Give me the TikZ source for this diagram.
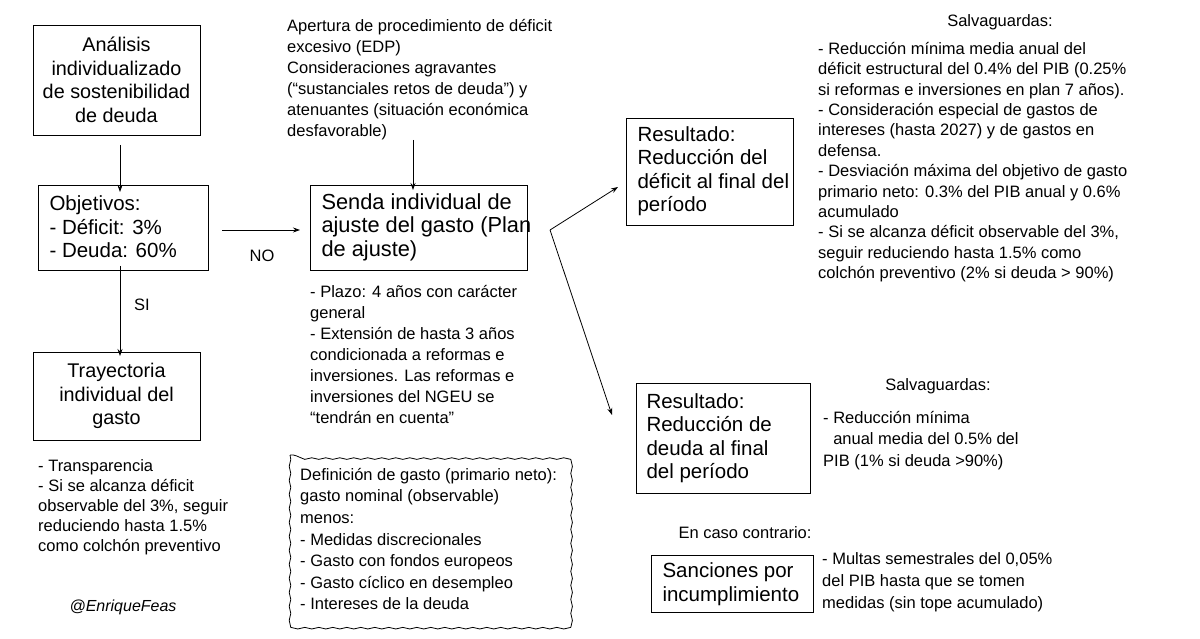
\documentclass[tikz,border=0pt]{standalone}
\usepackage{fontspec}
\setmainfont{Liberation Sans}
\usetikzlibrary{decorations.pathmorphing,arrows.meta}
\begin{document}
\begin{tikzpicture}[x=1pt,y=-1pt,
  box/.style={draw,line width=0.9pt,inner sep=0pt},
  big/.style={font=\fontsize{19.8}{23.5}\selectfont,align=center},
  bigl/.style={font=\fontsize{20.5}{23.5}\selectfont,align=left},
  txt/.style={font=\fontsize{16.5}{21}\selectfont,align=left,anchor=north west,inner sep=0pt},
  arr/.style={-{Stealth[length=7pt,width=5pt]},line width=0.8pt}]
\useasboundingbox (0,0) rectangle (1200,639);
% boxes
\draw[box] (33,25) rectangle (200,135);
\node[big] (a) at (116.5,80) {Análisis\\individualizado\\de sostenibilidad\\de deuda};
\coordinate (aB) at (120,135);
\draw[box] (38,185) rectangle (208,270);
\node[bigl,anchor=west] (o) at (46,227) {Objetivos:\\- Déficit: 3\%\\- Deuda: 60\%};
\coordinate (oT) at (120,185); \coordinate (oB) at (120,270); \coordinate (oR) at (208,230);
\draw[box] (33,352) rectangle (200,440);
\node[big] (t) at (116.5,396) {Trayectoria\\individual del\\gasto};
\coordinate (tT) at (120,352);
\draw[box] (310,185) rectangle (527,270);
\node[bigl,anchor=west,font=\fontsize{21.8}{23.5}\selectfont] (s) at (318,227) {Senda individual de\\ajuste del gasto (Plan\\de ajuste)};
\coordinate (sL) at (310,230); \coordinate (sT) at (413,185); \coordinate (sR) at (550,230);
\draw[box] (626,118) rectangle (793,225);
\node[bigl,anchor=west] (r1) at (634,171) {Resultado:\\Reducción del\\déficit al final del\\período};
\coordinate (r1L) at (618,187);
\draw[box] (636,383) rectangle (810,493);
\node[bigl,anchor=west] (r2) at (643,438) {Resultado:\\Reducción de\\deuda al final\\del período};
\coordinate (r2L) at (612,415);
\draw[box] (651,555) rectangle (813,612);
\node[bigl,anchor=west] (sa) at (659,584) {Sanciones por\\incumplimiento};
% arrows
\draw[arr] (aB) ++(0,10) -- ([yshift=-7]oT);
\draw[arr] ([yshift=4]oB) -- ([yshift=-4]tT);
\node[font=\fontsize{16.5}{18}\selectfont] at (142,305) {SI};
\draw[arr] ([xshift=14]oR) -- ([xshift=-10]sL);
\node[font=\fontsize{16.5}{18}\selectfont] at (262,256) {NO};
\coordinate (topT) at (413,140);
\draw[arr] (topT) -- ([yshift=-5]sT);
\draw[arr] (sR) -- (r1L);
\draw[arr] (sR) -- (r2L);
% texts
\node[txt] (top) at (287,19) {Apertura de procedimiento de déficit\\excesivo (EDP)\\Consideraciones agravantes\\(“sustanciales retos de deuda”) y\\atenuantes (situación económica\\desfavorable)};
\node[font=\fontsize{16.5}{18}\selectfont] (sv1) at (1000,22) {Salvaguardas:};
\node[txt,font=\fontsize{16.5}{20.4}\selectfont] (sv1t) at (818,42) {- Reducción mínima media anual del\\déficit estructural del 0.4\% del PIB (0.25\%\\si reformas e inversiones en plan 7 años).\\- Consideración especial de gastos de\\intereses (hasta 2027) y de gastos en\\defensa.\\- Desviación máxima del objetivo de gasto\\primario neto: 0.3\% del PIB anual y 0.6\%\\acumulado\\- Si se alcanza déficit observable del 3\%,\\seguir reduciendo hasta 1.5\% como\\colchón preventivo (2\% si deuda > 90\%)};
\node[txt] (pl) at (310,285) {- Plazo: 4 años con carácter\\general\\- Extensión de hasta 3 años\\condicionada a reformas e\\inversiones. Las reformas e\\inversiones del NGEU se\\“tendrán en cuenta”};
\node[txt,font=\fontsize{16.5}{20}\selectfont] (bl) at (38,459) {- Transparencia\\- Si se alcanza déficit\\observable del 3\%, seguir\\reduciendo hasta 1.5\%\\como colchón preventivo};
\node[font=\fontsize{16}{18}\itshape] (tw) at (123,607) {@EnriqueFeas};
\node[font=\fontsize{16.5}{18}\selectfont] (sv2) at (938,386) {Salvaguardas:};
\node[txt,font=\fontsize{16.5}{21.5}\selectfont] (sv2t) at (823,411) {- Reducción mínima\\\phantom{-} anual media del 0.5\% del\\PIB (1\% si deuda >90\%)};
\node[font=\fontsize{16.5}{18}\selectfont] (ec) at (745,533) {En caso contrario:};
\node[txt,font=\fontsize{16.5}{22}\selectfont] (mu) at (822,552) {- Multas semestrales del 0,05\%\\del PIB hasta que se tomen\\medidas (sin tope acumulado)};
\draw[line width=0.8pt,decorate,decoration={snake,amplitude=0.8pt,segment length=14pt}] (290,455) rectangle (567,625);
\node[txt,font=\fontsize{16.5}{21.6}\selectfont] (def) at (300,468) {Definición de gasto (primario neto):\\gasto nominal (observable)\\menos:\\- Medidas discrecionales\\- Gasto con fondos europeos\\- Gasto cíclico en desempleo\\- Intereses de la deuda};
\end{tikzpicture}
\end{document}
